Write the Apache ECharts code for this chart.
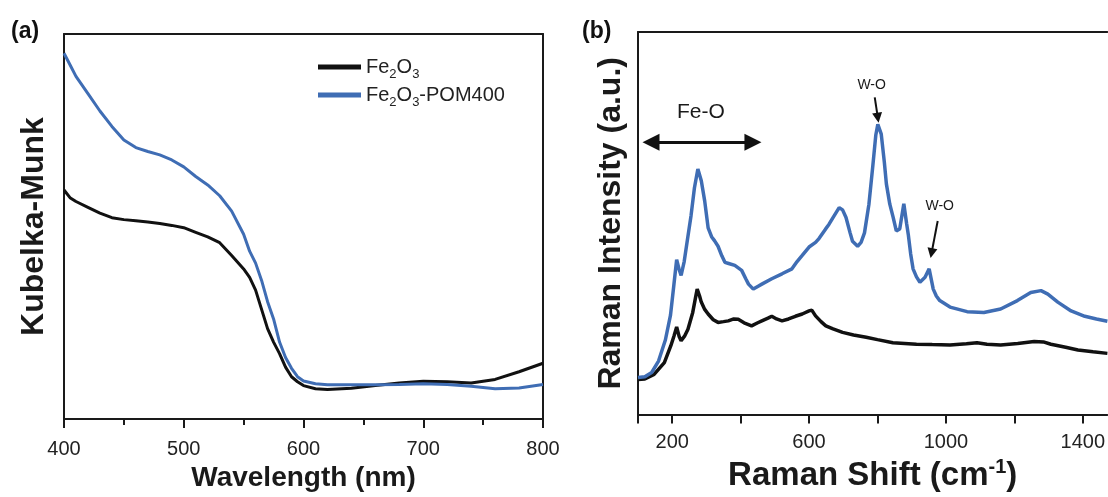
<!DOCTYPE html>
<html><head><meta charset="utf-8">
<script src="https://cdn.jsdelivr.net/npm/echarts@6/dist/echarts.min.js"></script>
<style>html,body{margin:0;padding:0;background:#fff}#c{width:1108px;height:497px}</style>
</head><body><div id="c"></div>
<script>
// ---------- Panel (a): Kubelka-Munk vs wavelength ----------
const uvWavelength = [400,405,410,420,430,440,450,460,470,480,490,500,510,520,530,540,550,555,560,565,570,575,580,585,590,595,600,610,620,640,660,680,700,720,740,760,780,800];
const uvFe2O3      = [59.5,57.5,56.5,55,53.5,52.3,51.8,51.5,51.2,50.8,50.3,49.7,48.5,47.3,45.8,42.5,39,36.8,33.5,28.5,23.5,20,17,13.5,11,9.7,8.7,7.9,7.7,8.0,8.7,9.4,9.8,9.7,9.4,10.3,12.3,14.5];
const uvPOM400     = [95,92,89,84.5,80,76,72.5,70.5,69.5,68.6,67.3,65.5,63,60.8,58,54,48,43.6,40.5,36,30.5,26,20,16,13.2,11,9.9,9.2,8.9,8.9,8.9,9.0,9.2,9.0,8.5,7.9,8.1,9.0];
const uvTickValues = [400,500,600,700,800];

// ---------- Panel (b): Raman spectra ----------
const ramanFe2O3 = [[100,9.2],[120,9.3],[147,10.5],[177,13.6],[196,18.0],[205,20.5],[213,22.9],[220,20.5],[226,19.3],[236,20.5],[246,22.3],[260,26.7],[268,30.5],[273,32.8],[280,31],[285,29.4],[295,27.5],[305,26.3],[320,24.8],[334,24.1],[350,24.3],[364,24.5],[380,25],[393,24.9],[410,24],[432,23.2],[450,24],[462,24.5],[480,25.2],[491,25.7],[505,25],[521,24.5],[540,25],[560,25.7],[580,26.3],[600,27.1],[608,27.3],[619,25.8],[635,24.3],[649,23.2],[670,22.4],[698,21.5],[730,20.8],[767,20.2],[800,19.6],[845,18.8],[914,18.4],[960,18.3],[1012,18.2],[1060,18.5],[1091,18.8],[1120,18.4],[1160,18.2],[1210,18.6],[1258,19.1],[1285,19],[1307,18.4],[1350,17.6],[1386,16.9],[1430,16.4],[1472,16.0]];
const ramanPOM400 = [[100,9.7],[120,9.9],[140,11],[160,14],[180,19.5],[195,26],[205,34],[213,40.5],[220,38],[226,36.4],[235,40],[245,46],[255,52],[265,59.3],[275,64.2],[285,61.1],[295,55.8],[305,48.8],[315,46.5],[324,45.4],[334,44],[345,41.5],[354,39.8],[365,39.5],[383,39],[403,37.7],[415,35.5],[423,34.1],[437,32.8],[450,33.5],[462,34.1],[491,35.5],[521,36.8],[550,38.1],[565,40],[580,41.6],[600,43.8],[619,45],[629,46],[649,48.6],[658,49.7],[670,51.5],[688,54.1],[698,53.5],[708,51.5],[720,47.5],[727,45.3],[742,44],[752,45],[762,47.5],[775,55],[786,64.7],[795,73],[801,75.9],[811,73.3],[820,66],[826,60.3],[836,55],[846,51.5],[855,48.0],[865,48.5],[877,55.1],[885,50],[890,47.1],[897,42],[904,38.1],[914,36],[924,34.6],[939,35.9],[951,38.1],[963,32.8],[972,31],[982,29.8],[1012,28.1],[1062,26.9],[1111,26.7],[1160,27.6],[1209,29.8],[1248,31.9],[1278,32.4],[1298,31.5],[1327,29.4],[1366,27.1],[1406,25.7],[1440,25],[1472,24.4]];
const ramanLabelValues = [200,600,1000,1400];
const ramanTickValues = [100,200,400,600,800,1000,1200,1400];

const seriesNames = ['Fe2O3','Fe2O3-POM400'];
// annotation anchors in data units of panel (b)
const feORange = [138, 436], feOLevel = 71.2, feOText = [284, 79];
const wo1Text = [783, 86.2], wo1Arrow = [[792, 82.9],[801, 77.6]];
const wo2Text = [982, 54.5], wo2Arrow = [[976, 50.6],[958, 42.2]];

const FONT = 'Liberation Sans, Arial, sans-serif';
const INK = '#1a1a1a';
const BLUE = '#3f6db4';
const BLACK = '#111111';

const lineAxis = {onZero:false, lineStyle:{color:INK, width:2}};
const frameAxis = (gridIndex, position, min, max) => ({
  gridIndex, type:'value', position, min, max,
  axisLine:{show:true, onZero:false, lineStyle:{color:INK, width:2}},
  axisTick:{show:false}, axisLabel:{show:false}, splitLine:{show:false}
});

const chart = echarts.init(document.getElementById('c'), null, {renderer:'canvas'});
chart.setOption({
  animation:false,
  textStyle:{fontFamily:FONT},
  grid:[
    {left:64, top:34, width:479, height:392},
    {left:638, top:32, right:0, height:385}
  ],
  legend:{
    data:seriesNames, orient:'vertical', left:313, top:52, itemGap:4,
    icon:'rect', itemWidth:43, itemHeight:5,
    formatter: n => n === 'Fe2O3' ? '{n|Fe}{s|2}{n|O}{s|3}' : '{n|Fe}{s|2}{n|O}{s|3}{n|-POM400}',
    textStyle:{rich:{
      n:{fontSize:20, color:'#222', fontFamily:FONT, lineHeight:28},
      s:{fontSize:13, color:'#222', fontFamily:FONT, lineHeight:14, verticalAlign:'bottom'}
    }}
  },
  graphic:[
    {type:'text', left:11, top:20, style:{text:'(a)', font:'bold 23px '+FONT, fill:'#111'}},
    {type:'text', left:582, top:20, style:{text:'(b)', font:'bold 23px '+FONT, fill:'#111'}}
  ],
  xAxis:[
    {gridIndex:0, type:'value', min:400, max:800, interval:100, position:'bottom',
     axisLine:lineAxis,
     axisTick:{show:true, inside:false, length:9, lineStyle:{color:INK, width:2}},
     minorTick:{show:true, splitNumber:2, length:6, lineStyle:{color:INK, width:2}},
     splitLine:{show:false}, minorSplitLine:{show:false},
     axisLabel:{fontSize:20, color:'#222', margin:20, fontFamily:FONT, customValues:uvTickValues, formatter:v=>String(v)},
     name:'Wavelength (nm)', nameLocation:'middle', nameGap:38,
     nameTextStyle:{fontSize:28, fontWeight:'bold', color:'#1a1a1a', fontFamily:FONT}},
    frameAxis(0,'top',400,800),
    {gridIndex:1, type:'value', min:100, max:1472, position:'bottom',
     axisLine:lineAxis,
     axisTick:{show:true, inside:false, length:9, lineStyle:{color:INK, width:2}, customValues:ramanTickValues},
     splitLine:{show:false},
     axisLabel:{fontSize:20, color:'#222', margin:18, fontFamily:FONT, customValues:ramanLabelValues, formatter:v=>String(v)},
     name:'{t|Raman Shift (cm}{sup|-1}{t|)}', nameLocation:'middle', nameGap:41,
     nameTextStyle:{rich:{
       t:{fontSize:33, fontWeight:'bold', color:'#1a1a1a', fontFamily:FONT, lineHeight:36},
       sup:{fontSize:20, fontWeight:'bold', color:'#1a1a1a', fontFamily:FONT, lineHeight:19, verticalAlign:'top'}
     }}},
    frameAxis(1,'top',100,1472)
  ],
  yAxis:[
    {gridIndex:0, type:'value', min:0, max:100, position:'left',
     axisLine:lineAxis, axisTick:{show:false}, axisLabel:{show:false}, splitLine:{show:false},
     name:'Kubelka-Munk', nameLocation:'middle', nameGap:14,
     nameTextStyle:{fontSize:32, fontWeight:'bold', color:'#1a1a1a', fontFamily:FONT}},
    frameAxis(0,'right',0,100),
    {gridIndex:1, type:'value', min:0, max:100, position:'left',
     axisLine:lineAxis, axisTick:{show:false}, axisLabel:{show:false}, splitLine:{show:false},
     name:'Raman Intensity (a.u.)', nameLocation:'middle', nameGap:11,
     nameTextStyle:{fontSize:32, fontWeight:'bold', color:'#1a1a1a', fontFamily:FONT}}
  ],
  series:[
    {type:'line', name:seriesNames[0], xAxisIndex:0, yAxisIndex:0, symbol:'none', silent:true,
     data:uvWavelength.map((x,i)=>[x,uvFe2O3[i]]), lineStyle:{color:BLACK, width:3}, itemStyle:{color:BLACK}},
    {type:'line', name:seriesNames[1], xAxisIndex:0, yAxisIndex:0, symbol:'none', silent:true,
     data:uvWavelength.map((x,i)=>[x,uvPOM400[i]]), lineStyle:{color:BLUE, width:3}, itemStyle:{color:BLUE}},
    {type:'line', name:seriesNames[0], xAxisIndex:2, yAxisIndex:2, symbol:'none', silent:true,
     data:ramanFe2O3, lineStyle:{color:BLACK, width:3.5}, itemStyle:{color:BLACK}},
    {type:'line', name:seriesNames[1], xAxisIndex:2, yAxisIndex:2, symbol:'none', silent:true,
     data:ramanPOM400, lineStyle:{color:BLUE, width:3.5}, itemStyle:{color:BLUE},
     markLine:{
       silent:true, animation:false, label:{show:false},
       emphasis:{disabled:true},
       data:[
         [{coord:[feORange[0],feOLevel], symbol:'triangle', symbolSize:17, lineStyle:{color:'#111', width:3, type:'solid'}},
          {coord:[feORange[1],feOLevel], symbol:'triangle', symbolSize:17}],
         [{coord:wo1Arrow[0], symbol:'none', lineStyle:{color:'#111', width:2, type:'solid'}},
          {coord:wo1Arrow[1], symbol:'triangle', symbolSize:10}],
         [{coord:wo2Arrow[0], symbol:'none', lineStyle:{color:'#111', width:2, type:'solid'}},
          {coord:wo2Arrow[1], symbol:'triangle', symbolSize:10}]
       ]
     },
     markPoint:{
       silent:true, symbol:'rect', symbolSize:1, itemStyle:{color:'rgba(0,0,0,0)'},
       label:{show:true, position:'inside', formatter:'{b}', color:'#1a1a1a', fontFamily:FONT},
       data:[
         {name:'Fe-O', coord:feOText, label:{fontSize:21}},
         {name:'W-O', coord:wo1Text, label:{fontSize:14}},
         {name:'W-O', coord:wo2Text, label:{fontSize:14}}
       ]
     }}
  ]
});
</script></body></html>
